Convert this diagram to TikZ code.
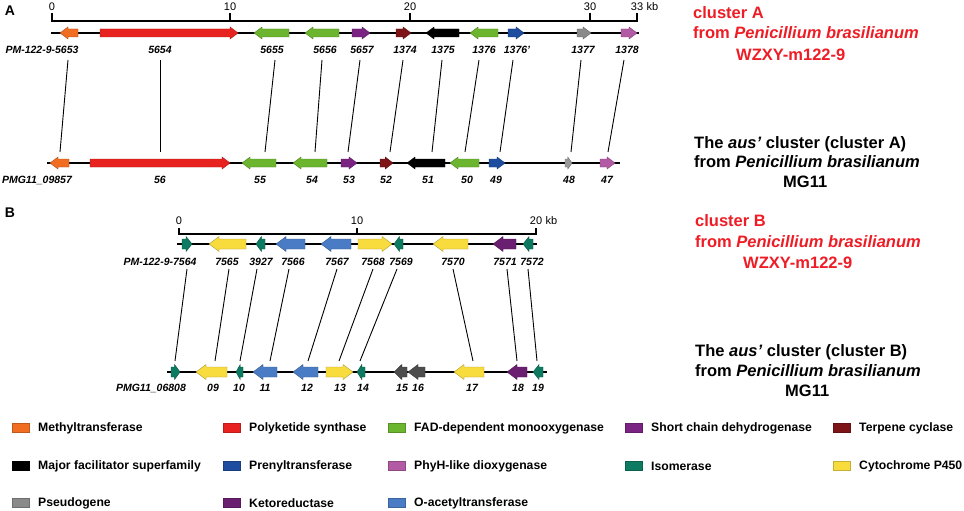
\documentclass[tikz,border=0pt]{standalone}
\usepackage{fontspec}
\setmainfont{Liberation Sans}
\usetikzlibrary{positioning}

\definecolor{methyl}{HTML}{F06D22}
\definecolor{pks}{HTML}{E8231F}
\definecolor{fad}{HTML}{6CB52E}
\definecolor{sdr}{HTML}{7B2383}
\definecolor{terp}{HTML}{7D1518}
\definecolor{mfs}{HTML}{000000}
\definecolor{prenyl}{HTML}{1E4C9F}
\definecolor{phyh}{HTML}{B35AA5}
\definecolor{isom}{HTML}{0D7B61}
\definecolor{p450}{HTML}{F8DC3E}
\definecolor{pseudo}{HTML}{8A8A8A}
\definecolor{kred}{HTML}{6B1F70}
\definecolor{oacet}{HTML}{4A7CC5}
\definecolor{dgray}{HTML}{4D4D4D}
\definecolor{lgray}{HTML}{9A9A9A}
\definecolor{headred}{HTML}{EE1C25}

\tikzset{
  genelab/.style={font=\bfseries\itshape\fontsize{10.5}{12}\selectfont, inner sep=0pt},
  scalelab/.style={font=\fontsize{11}{13}\selectfont, inner sep=0pt},
  headline/.style={font=\bfseries\fontsize{16.5}{20}\selectfont, anchor=base west, inner sep=0pt},
  legtext/.style={font=\bfseries\fontsize{12.2}{14}\selectfont, anchor=west, inner sep=0pt},
  panel/.style={font=\bfseries\fontsize{14}{16}\selectfont, inner sep=0pt},
  link/.style={line width=0.9pt},
  backbone/.style={line width=1.1pt},
  scalebar/.style={line width=1.3pt},
}

% gene arrow: tail x, tip x, y, colour
\newcommand{\genearrow}[4]{%
  \pgfmathsetmacro{\hl}{min(\ghl,0.6*abs(#2-#1))*sign(#2-#1)}%
  \filldraw[fill=#4,draw=#4!70!black,line width=0.4pt]
    (#1,#3-\gbh) -- ({#2-\hl},#3-\gbh) -- ({#2-\hl},#3-\ghh) -- (#2,#3)
    -- ({#2-\hl},#3+\ghh) -- ({#2-\hl},#3+\gbh) -- (#1,#3+\gbh) -- cycle;}

\begin{document}
\begin{tikzpicture}[x=1pt,y=-1pt]
\useasboundingbox (0,0) rectangle (964,511);

\node[panel] (pA) at (10,11) {A};
\node[panel] (pB) at (10,213) {B};

%% cluster A, scale
\draw[scalebar] (52,13) -- (52,21) -- (637,21) -- (637,13);
\foreach \x in {230,410,590}
  {\draw[scalebar] (\x,13) -- (\x,21);}
\foreach \x/\t [count=\i] in {52/0,230/10,410/20,590/30,637/33}
  {\node[scalelab] (sa\i) at (\x,7) {\t};}
\node[scalelab, right=3pt of sa5] (kba) {kb};

%% cluster A, WZXY-m122-9
\def\gbh{4}\def\ghh{6}\def\ghl{8}
\draw[backbone] (51,33) -- (639,33);
\foreach \a/\b/\c in {78/60/methyl,100/238/pks,289/254/fad,339/305/fad,352/370/sdr,
    396/411/terp,459/426/mfs,498/470/fad,508/524/prenyl,577/591/pseudo,621/637/phyh}
  {\genearrow{\a}{\b}{33}{\c}}
\foreach \x/\t [count=\i] in {42/PM-122-9-5653,160/5654,272/5655,325/5656,362/5657,
    405/1374,443/1375,484/1376,517/1376',583/1377,627/1378}
  {\node[genelab] (ga\i) at (\x,50) {\t};}

%% cluster A, MG11
\draw[backbone] (47,163) -- (620,163);
\foreach \a/\b/\c in {69/50/methyl,90/230/pks,276/242/fad,327/293/fad,341/357/sdr,
    380/393/terp,445/407/mfs,479/450/fad,489/505/prenyl,565/572/lgray,600/615/phyh}
  {\genearrow{\a}{\b}{163}{\c}}
\foreach \x/\t [count=\i] in {37/PMG11\_09857,160/56,260/55,312/54,349/53,
    386/52,428/51,467/50,496/49,569/48,607/47}
  {\node[genelab] (ma\i) at (\x,180) {\t};}

% links A
\foreach \xt/\xb [count=\i] in {68/60,160/160,275/265,322/315,360/348,403/390,
    442/432,479/465,513/500,581/571,624/608}
  {\coordinate (ua\i) at (\xt,60);
   \coordinate (da\i) at (\xb,152);
   \draw[link] (ua\i) -- (da\i);}

%% cluster B, scale
\draw[scalebar] (179,228) -- (179,234) -- (536,234) -- (536,228);
\draw[scalebar] (357,228) -- (357,234);
\foreach \x/\t [count=\i] in {179/0,357/10,536/20}
  {\node[scalelab] (sb\i) at (\x,221) {\t};}
\node[scalelab, right=3pt of sb3] (kbb) {kb};

%% cluster B, WZXY-m122-9
\def\gbh{5}\def\ghh{7.5}\def\ghl{10}
\draw[backbone] (177,244) -- (537,244);
\foreach \a/\b/\c in {182/192/isom,246/209/p450,265/256/isom,305/276/oacet,351/321/oacet,
    358/392/p450,403/394/isom,468/433/p450,516/493/kred,533/523/isom}
  {\genearrow{\a}{\b}{244}{\c}}
\foreach \x/\t [count=\i] in {160/PM-122-9-7564,227/7565,261/3927,293/7566,337/7567,
    373/7568,401/7569,453/7570,505/7571,532/7572}
  {\node[genelab] (gb\i) at (\x,262) {\t};}

%% cluster B, MG11
\draw[backbone] (167,372) -- (547,372);
\foreach \a/\b/\c in {171/180/isom,227/196/p450,243/236/isom,277/253/oacet,318/293/oacet,
    326/353/p450,365/357/isom,407/394/dgray,425/408/dgray,484/454/p450,527/507/kred,543/533/isom}
  {\genearrow{\a}{\b}{372}{\c}}
\foreach \x/\t [count=\i] in {151/PMG11\_06808,213/09,239/10,265/11,307/12,340/13,
    363/14,402/15,418/16,472/17,518/18,538/19}
  {\node[genelab] (mb\i) at (\x,388) {\t};}

% links B
\foreach \xt/\xb [count=\i] in {187/175,229/215,257/240,289/270,337/308,373/339,
    397/360,453/473,507/517,528/537}
  {\coordinate (ub\i) at (\xt,269);
   \coordinate (db\i) at (\xb,361);
   \draw[link] (ub\i) -- (db\i);}

%% titles
\node[headline, text=headred] (ta1) at (693,19) {cluster A};
\node[headline, text=headred] (ta2) at (693,39) {from \textit{Penicillium brasilianum}};
\node[headline, text=headred] (ta3) at (736,60) {WZXY-m122-9};
\node[headline] (tb1) at (694,148) {The \textit{aus'} cluster (cluster A)};
\node[headline] (tb2) at (694,167) {from \textit{Penicillium brasilianum}};
\node[headline] (tb3) at (783,187) {MG11};
\node[headline, text=headred] (tc1) at (695,226) {cluster B};
\node[headline, text=headred] (tc2) at (695,247) {from \textit{Penicillium brasilianum}};
\node[headline, text=headred] (tc3) at (743,268) {WZXY-m122-9};
\node[headline] (td1) at (695,356) {The \textit{aus'} cluster (cluster B)};
\node[headline] (td2) at (695,376) {from \textit{Penicillium brasilianum}};
\node[headline] (td3) at (785,396) {MG11};

%% legend
\foreach \x/\y/\c/\t [count=\i] in {12/428/methyl/Methyltransferase,
    223/428/pks/Polyketide synthase,
    388/428/fad/FAD-dependent monooxygenase,
    625/428/sdr/Short chain dehydrogenase,
    833/428/terp/Terpene cyclase,
    12/466/mfs/Major facilitator superfamily,
    223/466/prenyl/Prenyltransferase,
    388/466/phyh/PhyH-like dioxygenase,
    625/466/isom/Isomerase,
    833/466/p450/Cytochrome P450,
    12/503/pseudo/Pseudogene,
    223/503/kred/Ketoreductase,
    388/503/oacet/O-acetyltransferase}
  {\filldraw[fill=\c,draw=\c!80!black,line width=0.4pt] (\x,\y-4.5) rectangle (\x+17,\y+4.5);
   \node[legtext] (lg\i) at (\x+26,\y) {\t};}
\end{tikzpicture}
\end{document}
